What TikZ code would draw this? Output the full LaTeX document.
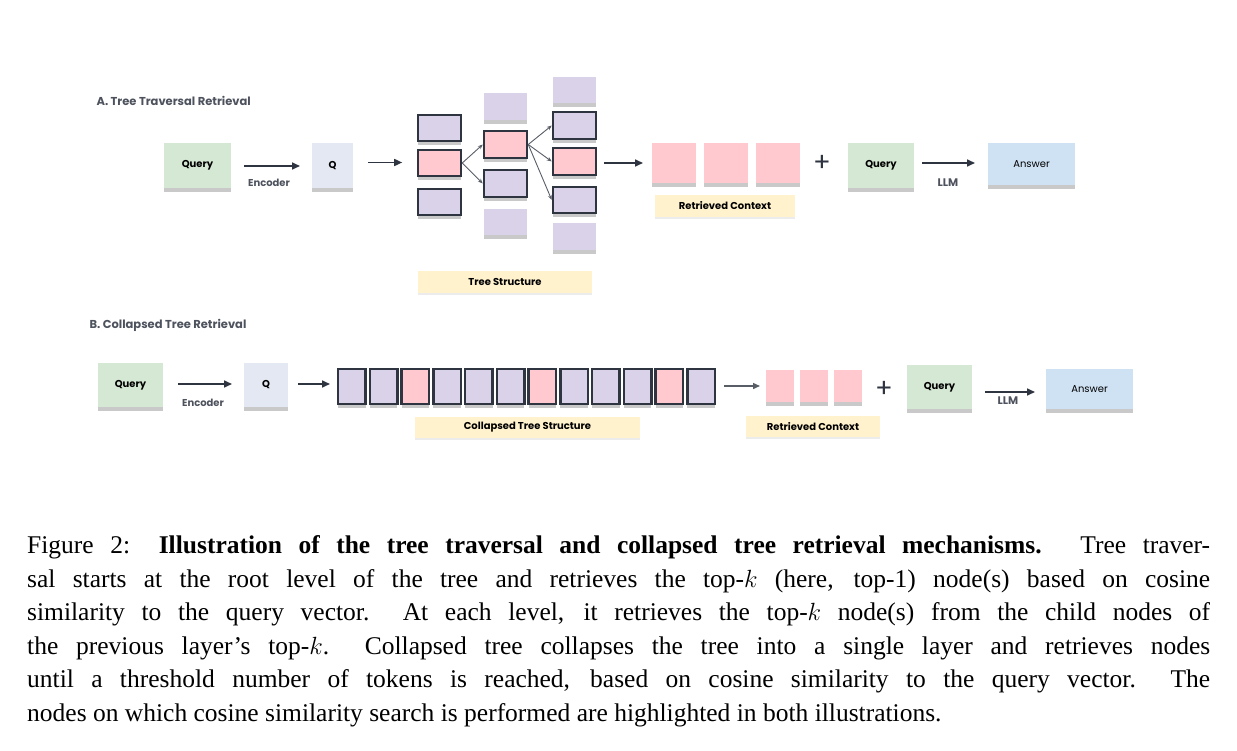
\documentclass[tikz,border=0pt]{standalone}
\usepackage{fontspec}
\setmainfont{Liberation Serif}
\newfontfamily\lab{Poppins}
\usetikzlibrary{shadows,arrows.meta}
\definecolor{qgreen}{HTML}{D5E8D4}
\definecolor{qq}{HTML}{E3E8F2}
\definecolor{purp}{HTML}{D9D2E9}
\definecolor{pnk}{HTML}{FFC9CF}
\definecolor{beig}{HTML}{FFF2CC}
\definecolor{ans}{HTML}{CFE2F3}
\definecolor{bord}{HTML}{2E3440}
\newcommand{\bx}[7]{\node[#6, minimum width={(#4-#2)*1pt}, minimum height={(#5-#3)*1pt}] (#1) at ({(#2+#4)/2*1pt},{-(#3+#5)/2*1pt}) {#7};}
\begin{document}
\begin{tikzpicture}[x=1pt,y=1pt,
  base/.style={inner sep=0pt, drop shadow={shadow xshift=0pt, shadow yshift=-4pt, opacity=.3, fill=black!70}},
  query/.style={base, fill=qgreen, font=\lab\bfseries\fontsize{10}{12}\selectfont},
  qv/.style={base, fill=qq, font=\lab\bfseries\fontsize{10}{12}\selectfont},
  answer/.style={base, fill=ans, font=\lab\fontsize{10}{12}\selectfont},
  pu/.style={base, fill=purp},
  pk/.style={base, fill=pnk},
  pub/.style={base, fill=purp, draw=bord, line width=2.5pt},
  pkb/.style={base, fill=pnk, draw=bord, line width=2.5pt},
  tag/.style={inner sep=0pt, fill=beig, font=\lab\bfseries\fontsize{10}{12}\selectfont, drop shadow={shadow xshift=0pt, shadow yshift=-2pt, opacity=.15}},
  arr/.style={-{Triangle[length=8pt,width=7pt]}, line width=1.6pt, draw=bord},
  tarr/.style={-{Stealth[length=5pt,width=4pt]}, line width=0.9pt, draw=bord!80},
  lbl/.style={font=\lab\bfseries\fontsize{10}{12}\selectfont, text=bord!85},
  ttl/.style={font=\lab\bfseries\fontsize{11.5}{14}\selectfont, text=bord!85, anchor=west}]
\useasboundingbox (0,0) rectangle (1237,-751);
% ---------- A ----------
\node[ttl] (ta) at (93,-101) {A.\ Tree Traversal Retrieval};
\bx{aq}{164}{143}{231}{188}{query}{Query}
\bx{aQ}{312}{143}{353}{188}{qv}{Q}
\coordinate (e1s) at (244,-166); \coordinate (e1e) at (300,-166);
\draw[arr] (e1s) -- (e1e);
\node[lbl] (enc1) at (269,-183) {Encoder};
\draw[arr] (aQ.east)++(15,3) coordinate (a2s) -- ++(34,0) coordinate (a2e);
% tree
\bx{c11}{418}{115}{461}{141}{pub}{}
\bx{c12}{418}{150}{461}{176}{pkb}{}
\bx{c13}{418}{189}{461}{215}{pub}{}
\bx{c21}{484}{93}{527}{120}{pu}{}
\bx{c22}{484}{131}{527}{158}{pkb}{}
\bx{c23}{484}{170}{527}{197}{pub}{}
\bx{c24}{484}{209}{527}{235}{pu}{}
\bx{c31}{553}{77}{596}{103}{pu}{}
\bx{c32}{553}{112}{596}{139}{pub}{}
\bx{c33}{553}{148}{596}{175}{pkb}{}
\bx{c34}{553}{187}{596}{213}{pub}{}
\bx{c35}{553}{223}{596}{250}{pu}{}
\draw[tarr] (c12.east) -- (c22.west);
\draw[tarr] (c12.east) -- (c23.west);
\draw[tarr] (c22.east) -- (c32.west);
\draw[tarr] (c22.east) -- (c33.west);
\draw[tarr] (c22.east) -- (c34.west);
\bx{tsa}{418}{271}{592}{293}{tag}{Tree Structure}
\coordinate (a3s) at (604,-163); \coordinate (a3e) at (643,-163);
\draw[arr] (a3s) -- (a3e);
\bx{r1}{652}{143}{696}{183}{pk}{}
\bx{r2}{704}{143}{748}{183}{pk}{}
\bx{r3}{756}{143}{800}{183}{pk}{}
\bx{rca}{655}{195}{795}{217}{tag}{Retrieved Context}
\node[font=\lab\fontsize{26}{26}\selectfont, text=bord] (pa) at (822,-163) {+};
\bx{aq2}{848}{143}{914}{188}{query}{Query}
\coordinate (a4s) at (922,-163); \coordinate (a4e) at (975,-163);
\draw[arr] (a4s) -- (a4e);
\node[lbl, font=\lab\bfseries\fontsize{11}{12}\selectfont] (llm1) at (948,-183) {LLM};
\bx{aa}{988}{143}{1075}{185}{answer}{Answer}
% ---------- B ----------
\node[ttl] (tb) at (86,-325) {B.\ Collapsed Tree Retrieval};
\bx{bq}{98}{363}{163}{407}{query}{Query}
\bx{bQ}{244}{363}{288}{407}{qv}{Q}
\coordinate (b1s) at (178,-384); \coordinate (b1e) at (232,-384);
\draw[arr] (b1s) -- (b1e);
\node[lbl] (enc2) at (203,-403) {Encoder};
\coordinate (b2s) at (298,-384); \coordinate (b2e) at (330,-384);
\draw[arr] (b2s) -- (b2e);
\foreach \i in {0,...,11}{
  \pgfmathsetmacro{\xa}{338+\i*31.75}
  \pgfmathsetmacro{\xb}{\xa+27.5}
  \ifnum\i=2 \def\st{pkb}\else\ifnum\i=6 \def\st{pkb}\else\ifnum\i=10 \def\st{pkb}\else\def\st{pub}\fi\fi\fi
  \bx{s\i}{\xa}{369}{\xb}{404}{\st}{}
}
\bx{tsb}{415}{417}{640}{438}{tag}{Collapsed Tree Structure}
\coordinate (b3s) at (724,-386); \coordinate (b3e) at (760,-386);
\draw[tarr, line width=1.4pt, -{Triangle[length=7pt,width=6pt]}] (b3s) -- (b3e);
\bx{p1}{766}{370}{794}{402}{pk}{}
\bx{p2}{800}{370}{828}{402}{pk}{}
\bx{p3}{834}{370}{862}{402}{pk}{}
\bx{rcb}{746}{416}{880}{437}{tag}{Retrieved Context}
\node[font=\lab\fontsize{26}{26}\selectfont, text=bord] (pb) at (884,-389) {+};
\bx{bq2}{907}{365}{972}{409}{query}{Query}
\coordinate (b4s) at (985,-392); \coordinate (b4e) at (1035,-392);
\draw[arr] (b4s) -- (b4e);
\node[lbl, font=\lab\bfseries\fontsize{11}{12}\selectfont] (llm2) at (1008,-401) {LLM};
\bx{ba}{1046}{369}{1133}{409}{answer}{Answer}
% ---------- caption ----------
\begin{scope}[every node/.style={anchor=base west, inner sep=0pt, font=\fontsize{25.5}{30}\selectfont}]
\node (l1) at (27,-553) {\makebox[1183pt][s]{Figure 2: \textbf{Illustration of the tree traversal and collapsed tree retrieval mechanisms.} Tree traver-}};
\node (l2) at (27,-587) {\makebox[1183pt][s]{sal starts at the root level of the tree and retrieves the top-$k$ (here, top-1) node(s) based on cosine}};
\node (l3) at (27,-620) {\makebox[1183pt][s]{similarity to the query vector.\ \ At each level, it retrieves the top-$k$ node(s) from the child nodes of}};
\node (l4) at (27,-654) {\makebox[1183pt][s]{the previous layer's top-$k$.\ \ Collapsed tree collapses the tree into a single layer and retrieves nodes}};
\node (l5) at (27,-687) {\makebox[1183pt][s]{until a threshold number of tokens is reached, based on cosine similarity to the query vector.\ \ The}};
\node (l6) at (27,-721) {nodes on which cosine similarity search is performed are highlighted in both illustrations.};
\end{scope}
\end{tikzpicture}
\end{document}
